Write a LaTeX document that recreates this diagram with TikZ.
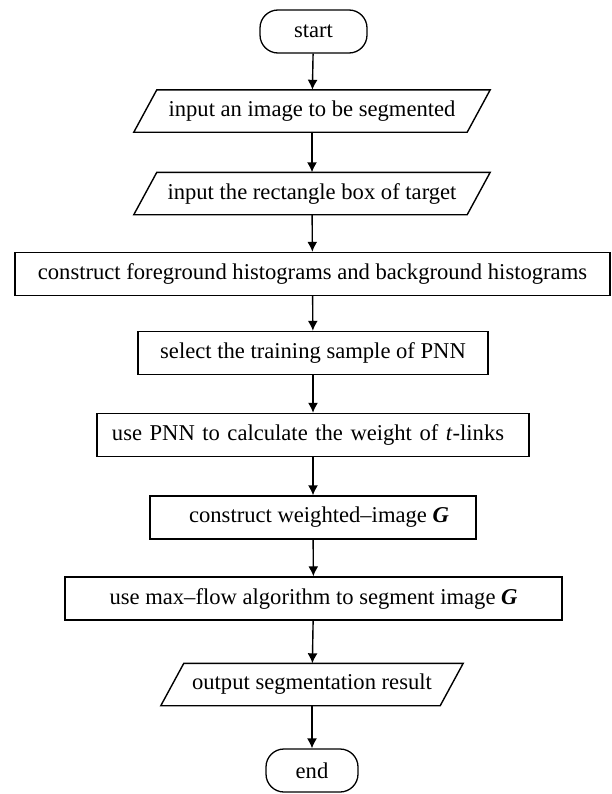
\documentclass[tikz,border=0pt]{standalone}
\usepackage{fontspec}
\setmainfont{Liberation Serif}
\usetikzlibrary{arrows.meta,calc}
\begin{document}
\begin{tikzpicture}[x=1bp,y=-1bp,
  every node/.style={font=\fontsize{22.6bp}{26bp}\selectfont, inner sep=0pt},
  boxnode/.style={draw, line width=1.4bp, minimum height=43bp},
  termnode/.style={draw, line width=1.3bp, rounded corners=18bp, minimum height=43bp},
  ionode/.style={minimum height=42bp},
  flowarrow/.style={line width=1.4bp, -{Latex[length=10bp,width=10bp]}},
  ioborder/.style={line width=1.4bp, line join=miter}]
\useasboundingbox (0,0) rectangle (612,794);

\node[termnode, minimum width=107bp] (start) at (313.5,31.5) {start};
\node[ionode, minimum width=333bp] (in1) at (312,111) {input an image to be segmented};
\node[ionode, minimum width=333bp] (in2) at (312,193.5) {input the rectangle box of target};
\node[boxnode, minimum width=595bp] (hist) at (312.5,274) {construct foreground histograms and background histograms};
\node[boxnode, minimum width=350bp] (samp) at (313,353) {select the training sample of PNN};
\node[boxnode, minimum width=432bp, text width=402bp, align=left] (pnn) at (313,435) {use PNN to calculate the weight of \textit{t}-links};
\node[boxnode, minimum width=326bp] (wimg) at (313,517.5) {\hspace*{12bp}construct weighted--image \textbf{\textit{G}}};
\node[boxnode, minimum width=497bp] (maxf) at (313.5,598.5) {use max--flow algorithm to segment image \textbf{\textit{G}}};
\node[ionode, minimum width=279bp] (out) at (312,684.5) {output segmentation result};
\node[termnode, minimum width=92bp] (end) at (312,770.5) {end};

\foreach \n in {in1,in2,out}{
  \draw[ioborder] ($(\n.south west)+(-11.5,0)$) -- ($(\n.south east)+(-11.5,0)$) -- ($(\n.north east)+(11.5,0)$) -- ($(\n.north west)+(11.5,0)$) -- cycle;
}

\draw[flowarrow] (start) -- (in1);
\draw[flowarrow] (in1) -- (in2);
\draw[flowarrow] (in2) -- (hist);
\draw[flowarrow] (hist) -- (samp);
\draw[flowarrow] (samp) -- (pnn);
\draw[flowarrow] (pnn) -- (wimg);
\draw[flowarrow] (wimg) -- (maxf);
\draw[flowarrow] (maxf) -- (out);
\draw[flowarrow] (out) -- (end);
\end{tikzpicture}
\end{document}
